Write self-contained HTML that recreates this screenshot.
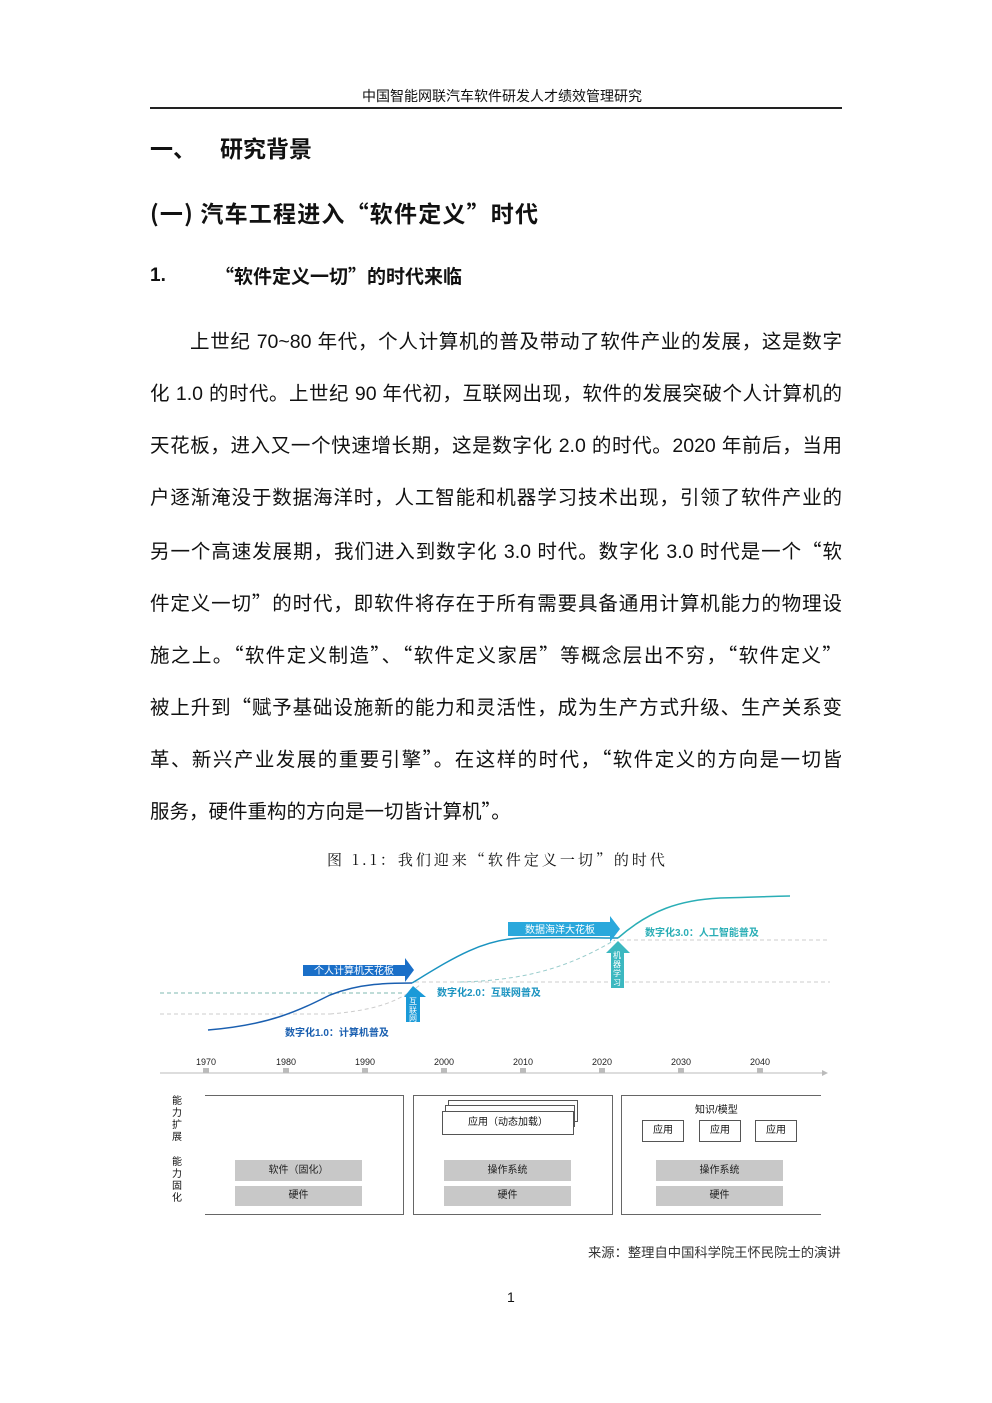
<!DOCTYPE html>
<html><head><meta charset="utf-8"><style>
body{margin:0;background:#fff;width:992px;height:1403px;position:relative;overflow:hidden;font-family:"Liberation Sans","Noto Sans CJK SC",sans-serif;color:#111}
.a{position:absolute;white-space:nowrap}
.cj{font-family:"Noto Sans CJK SC",sans-serif}
.ln{position:absolute;left:150px;width:692px;font-size:19.5px;text-align:justify;text-align-last:justify;white-space:nowrap;height:26px;line-height:26px}
.q{font-family:"Noto Sans CJK SC",sans-serif}
.bar{position:absolute;background:#c8c8c8;font-size:10px;text-align:center;color:#222}
.sm{position:absolute;border:1px solid #555;background:#fff;font-size:10px;text-align:center}
</style></head><body>
<div class="a" style="left:362px;top:86px;font-size:14px">中国智能网联汽车软件研发人才绩效管理研究</div>
<div class="a" style="left:150px;top:107px;width:692px;height:2px;background:#222"></div>
<div class="a cj" style="left:150px;top:130px;font-size:23px;font-weight:bold">一、</div>
<div class="a cj" style="left:220px;top:130px;font-size:23px;font-weight:bold">研究背景</div>
<div class="a cj" style="left:150px;top:195px;font-size:23px;font-weight:bold;letter-spacing:1.2px">(一) 汽车工程进入“软件定义”时代</div>
<div class="a" style="left:150px;top:265px;font-size:19px;font-weight:bold">1.</div>
<div class="a cj" style="left:215px;top:262px;font-size:19px;font-weight:bold">“软件定义一切”的时代来临</div>
<div class="ln" style="top:329px;left:190px;width:652px">上世纪 70~80 年代，个人计算机的普及带动了软件产业的发展，这是数字</div>
<div class="ln" style="top:381px">化 1.0 的时代。上世纪 90 年代初，互联网出现，软件的发展突破个人计算机的</div>
<div class="ln" style="top:433px">天花板，进入又一个快速增长期，这是数字化 2.0 的时代。2020 年前后，当用</div>
<div class="ln" style="top:485px">户逐渐淹没于数据海洋时，人工智能和机器学习技术出现，引领了软件产业的</div>
<div class="ln" style="top:537px">另一个高速发展期，我们进入到数字化 3.0 时代。数字化 3.0 时代是一个<span class="q">“</span>软</div>
<div class="ln" style="top:589px">件定义一切<span class="q">”</span>的时代，即软件将存在于所有需要具备通用计算机能力的物理设</div>
<div class="ln" style="top:641px">施之上。<span class="q">“</span>软件定义制造<span class="q">”</span>、<span class="q">“</span>软件定义家居<span class="q">”</span>等概念层出不穷，<span class="q">“</span>软件定义<span class="q">”</span></div>
<div class="ln" style="top:693px">被上升到<span class="q">“</span>赋予基础设施新的能力和灵活性，成为生产方式升级、生产关系变</div>
<div class="ln" style="top:745px">革、新兴产业发展的重要引擎<span class="q">”</span>。在这样的时代，<span class="q">“</span>软件定义的方向是一切皆</div>
<div class="a" style="top:797px;left:150px;font-size:19.5px;line-height:26px">服务，硬件重构的方向是一切皆计算机<span class="q">”</span>。</div>
<div class="a" style="left:327px;top:849px;font-size:15px;font-family:'Noto Serif CJK SC',serif;letter-spacing:3px">图 1.1：我们迎来“软件定义一切”的时代</div>
<svg class="a" style="left:0;top:880px" width="992" height="200" viewBox="0 880 992 200">
<g stroke-dasharray="4,3" stroke-width="1" fill="none">
<line x1="160" y1="993" x2="405" y2="993" stroke="#7fb9b0"/>
<line x1="160" y1="1014" x2="330" y2="1014" stroke="#ccc"/>
<line x1="415" y1="982" x2="830" y2="982" stroke="#ccc"/>
<line x1="620" y1="940" x2="830" y2="940" stroke="#ccc"/>
<path d="M330 1014 C 380 1010, 400 1000, 420 985" stroke="#ccc"/>
<path d="M460 982 C 540 980, 580 960, 615 940" stroke="#9cc"/>
</g>
<path d="M208 1030 C 270 1025, 300 1010, 330 995 C 360 983, 390 983, 412 983" stroke="#1a5fb0" stroke-width="1.5" fill="none"/>
<path d="M412 983 C 450 960, 480 940, 520 938 C 560 937, 600 938, 618 938" stroke="#1a93c0" stroke-width="1.5" fill="none"/>
<path d="M618 938 C 650 910, 680 900, 720 898 C 760 897, 780 896, 790 896" stroke="#2aaeb6" stroke-width="1.5" fill="none"/>
<polygon points="303,965 405,965 405,958 414,970 405,982 405,976 303,976" fill="#1a6fc8"/>
<text x="354" y="974" font-size="10" fill="#fff" text-anchor="middle">个人计算机天花板</text>
<polygon points="508,922 610,922 610,916 620,929 610,942 610,936 508,936" fill="#2aa8dc"/>
<text x="560" y="933" font-size="10" fill="#fff" text-anchor="middle">数据海洋大花板</text>
<polygon points="404,997 413,986 426,997 420,997 420,1022 406,1022 406,997" fill="#1a9ad8"/>
<text x="413" y="1004" font-size="8" fill="#fff" text-anchor="middle">互</text>
<text x="413" y="1013" font-size="8" fill="#fff" text-anchor="middle">联</text>
<text x="413" y="1021" font-size="8" fill="#fff" text-anchor="middle">网</text>
<polygon points="606,953 618,941 630,953 624,953 624,988 611,988 611,953" fill="#3cb8c0"/>
<text x="617" y="958" font-size="8" fill="#fff" text-anchor="middle">机</text>
<text x="617" y="967" font-size="8" fill="#fff" text-anchor="middle">器</text>
<text x="617" y="976" font-size="8" fill="#fff" text-anchor="middle">学</text>
<text x="617" y="985" font-size="8" fill="#fff" text-anchor="middle">习</text>
<text x="285" y="1036" font-size="10" font-weight="bold" fill="#1a5fb0">数字化1.0：计算机普及</text>
<text x="437" y="996" font-size="10" font-weight="bold" fill="#1a93c0">数字化2.0：互联网普及</text>
<text x="645" y="936" font-size="10" font-weight="bold" fill="#2aaeb6">数字化3.0：人工智能普及</text>
<line x1="160" y1="1073" x2="822" y2="1073" stroke="#bbb"/>
<polygon points="822,1070 828,1073 822,1076" fill="#bbb"/>
<g font-size="9" fill="#222" text-anchor="middle">
<text x="206" y="1065">1970</text><text x="286" y="1065">1980</text><text x="365" y="1065">1990</text><text x="444" y="1065">2000</text><text x="523" y="1065">2010</text><text x="602" y="1065">2020</text><text x="681" y="1065">2030</text><text x="760" y="1065">2040</text>
</g>
<g fill="#bbb"><rect x="203" y="1068" width="6" height="5"/><rect x="283" y="1068" width="6" height="5"/><rect x="362" y="1068" width="6" height="5"/><rect x="441" y="1068" width="6" height="5"/><rect x="520" y="1068" width="6" height="5"/><rect x="599" y="1068" width="6" height="5"/><rect x="678" y="1068" width="6" height="5"/><rect x="757" y="1068" width="6" height="5"/></g>
</svg>
<div class="a" style="left:172px;top:1096px;font-size:10px;line-height:12px;width:12px;white-space:normal">能力扩展</div>
<div class="a" style="left:172px;top:1157px;font-size:10px;line-height:12px;width:12px;white-space:normal">能力固化</div>
<div class="a" style="left:205px;top:1095px;width:198px;height:118px;border:1px solid #666;border-left:none"></div>
<div class="a" style="left:413px;top:1095px;width:198px;height:118px;border:1px solid #666"></div>
<div class="a" style="left:621px;top:1095px;width:199px;height:118px;border-left:1px solid #666;border-top:1px solid #666;border-bottom:1px solid #666"></div>
<div class="bar" style="left:235px;top:1160px;width:127px;height:21px;line-height:21px">软件（固化）</div>
<div class="bar" style="left:235px;top:1186px;width:127px;height:20px;line-height:20px">硬件</div>
<div class="bar" style="left:444px;top:1160px;width:127px;height:21px;line-height:21px">操作系统</div>
<div class="bar" style="left:444px;top:1186px;width:127px;height:20px;line-height:20px">硬件</div>
<div class="bar" style="left:656px;top:1160px;width:127px;height:21px;line-height:21px">操作系统</div>
<div class="bar" style="left:656px;top:1186px;width:127px;height:20px;line-height:20px">硬件</div>
<div class="sm" style="left:448px;top:1100px;width:128px;height:20px"></div>
<div class="sm" style="left:445px;top:1105px;width:128px;height:20px"></div>
<div class="sm" style="left:442px;top:1111px;width:130px;height:22px;line-height:22px">应用（动态加载）</div>
<div class="a" style="left:695px;top:1101px;font-size:10px">知识/模型</div>
<div class="sm" style="left:642px;top:1120px;width:40px;height:20px;line-height:20px">应用</div>
<div class="sm" style="left:699px;top:1120px;width:40px;height:20px;line-height:20px">应用</div>
<div class="sm" style="left:755px;top:1120px;width:40px;height:20px;line-height:20px">应用</div>
<div class="a" style="left:588px;top:1242px;font-size:13.3px;color:#333">来源：整理自中国科学院王怀民院士的演讲</div>
<div class="a" style="left:507px;top:1289px;font-size:14px">1</div>
</body></html>
